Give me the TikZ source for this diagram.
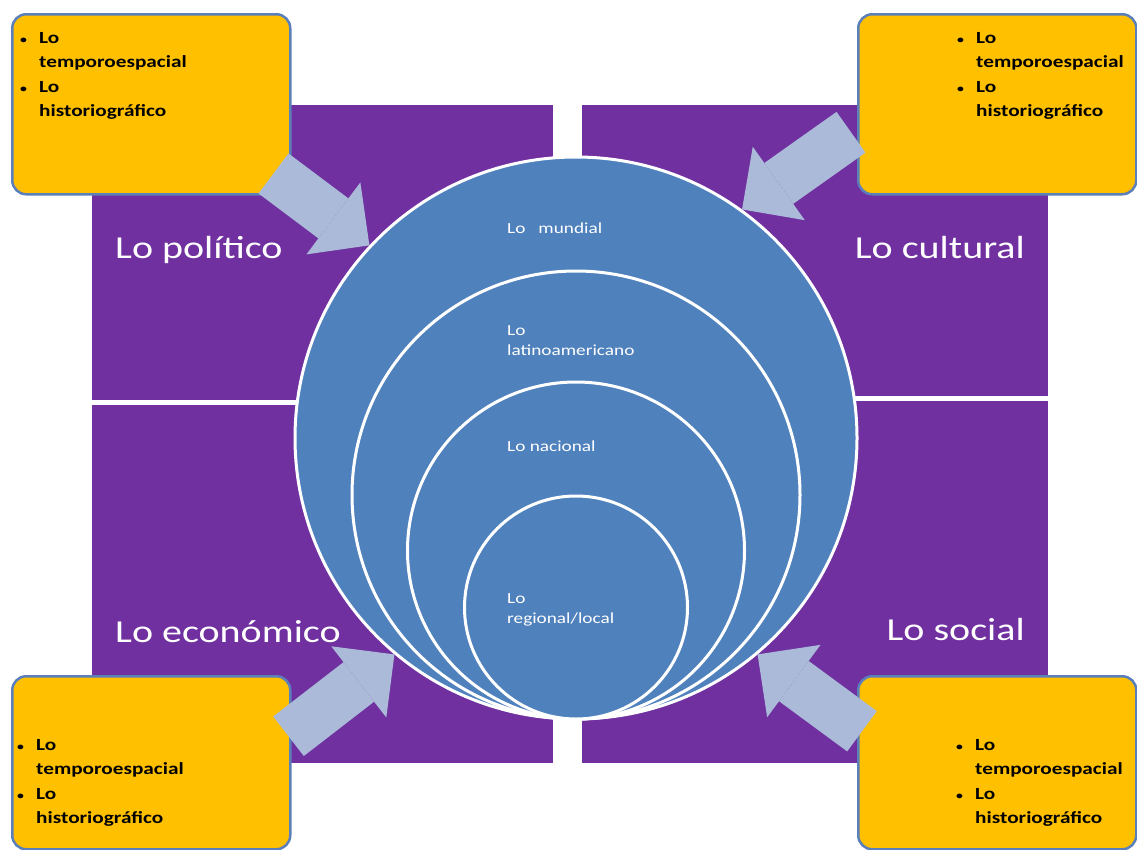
\documentclass[tikz,border=0pt]{standalone}
\usepackage{fontspec}
\setmainfont{Carlito}[FakeStretch=1.25]
\usepackage{tikz}
\usetikzlibrary{arrows.meta}
\definecolor{quadpurple}{HTML}{7030A0}
\definecolor{ringblue}{HTML}{4F81BD}
\definecolor{notegold}{HTML}{FFC000}
\definecolor{noteline}{HTML}{5B7FBA}
\definecolor{feedgray}{RGB}{170,186,216}
\tikzset{
quad/.style={fill=quadpurple},
ring/.style={circle,fill=ringblue,draw=white,line width=3pt,inner sep=0pt},
ringlabel/.style={anchor=north west,text=white,align=left,inner sep=0pt,
  font=\fontsize{15.4}{20}\selectfont},
sphere/.style={text=white,inner sep=0pt,font=\fontsize{32}{38}\selectfont},
note/.style={rectangle,rounded corners=14pt,fill=notegold,draw=noteline,
  line width=2.5pt,minimum width=278pt,anchor=north west},
notetext/.style={anchor=north west,align=left,inner sep=0pt,
  font=\bfseries\fontsize{17}{24.5}\selectfont},
feed/.style={draw=feedgray,line width=50pt,
  -{Triangle[length=45pt,width=90pt,line width=0pt]}},
}
\newcommand{\dotitem}{\makebox[19pt][l]{\fontsize{11}{11}\selectfont\textbullet}}
\newcommand{\notebody}{\dotitem Lo\\\hspace*{19pt}temporoespacial\\
\dotitem Lo\\\hspace*{19pt}historiográfico}

\begin{document}
\begin{tikzpicture}[x=1pt,y=-1pt]
\useasboundingbox (0,0) rectangle (1137,849);
% the four fields
\fill[quad] (92,105) rectangle (553,400);
\fill[quad] (92,405) rectangle (553,763);
\fill[quad] (582,105) rectangle (1048,396);
\fill[quad] (582,401) rectangle (1048,763);
\node[sphere,anchor=base west] (pol) at (115,258) {Lo político};
\node[sphere,anchor=base east] (cul) at (1025,258) {Lo cultural};
\node[sphere,anchor=base west] (eco) at (115,642) {Lo económico};
\node[sphere,anchor=base east] (soc) at (1025,640) {Lo social};
% the circles
\foreach \r/\n in {281/mundo,224/latam,168.5/nacion,111.5/region}
{
  \node[ring,minimum size=2*\r pt] (\n) at (576,719-\r) {};
}
\node[ringlabel] (mundotxt) at (507,223) {Lo~~~mundial};
\node[ringlabel] (latamtxt) at (507,325) {Lo\\latinoamericano};
\node[ringlabel] (naciontxt) at (507,441) {Lo nacional};
\node[ringlabel] (regiontxt) at (507,593) {Lo\\regional/local};
% the notes
\foreach \n/\bx/\by/\h/\tx/\ty in {tl/11/13/180/20/32,tr/857/13/180/957/32,
  bl/11/675/173/17/739,br/857/675/173/956/739}
{
  \node[note,minimum height=\h pt] (\n) at (\bx,\by) {};
  \node[notetext] (\n txt) at (\tx,\ty) {\notebody};
}
% the arrows
\draw[feed] ([shift={(-18,-22)}]tl.south east) -- (mundo.137);
\draw[feed] ([shift={(-6,28)}]tr.west) -- (mundo.54);
\draw[feed] ([shift={(-3,-26.5)}]bl.east) -- (mundo.230);
\draw[feed] ([shift={(5,-31.5)}]br.west) -- (mundo.310);
\end{tikzpicture}
\end{document}
